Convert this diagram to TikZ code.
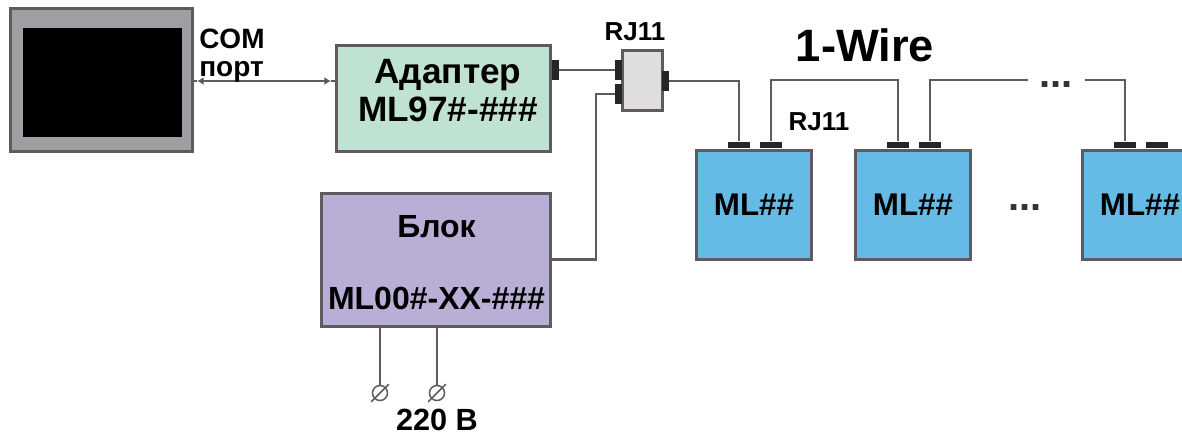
\documentclass[tikz,border=0pt]{standalone}
\usepackage{fontspec}
\setmainfont{Liberation Sans}
\usepackage{tikz}
\usetikzlibrary{arrows.meta,positioning,calc}
\definecolor{framegray}{HTML}{A09EA2}
\definecolor{edgegray}{HTML}{5E5A60}
\definecolor{adaptergreen}{HTML}{C0E2D2}
\definecolor{blockviolet}{HTML}{B9AFD6}
\definecolor{jackgray}{HTML}{E0DDDD}
\definecolor{moduleblue}{HTML}{66BBE6}
\newcommand{\px}{*0.75pt}
\tikzset{
  unitbox/.style={
    draw=edgegray,
    line width=3\px,
    align=center,
    inner sep=0pt,
    font=\bfseries\fontsize{23.5}{28.5}\selectfont
  },
  modulebox/.style={
    unitbox,
    fill=moduleblue,
    minimum width=115\px,
    minimum height=109\px
  },
  sideplug/.style={
    fill=black!85,
    inner sep=0pt,
    minimum width=7\px,
    minimum height=20\px
  },
  topplug/.style={
    fill=black!85,
    inner sep=0pt,
    minimum width=22\px,
    minimum height=6\px
  },
  wire/.style={draw=edgegray,line width=2.5\px},
  terminal/.style={
    draw=edgegray,
    circle,
    inner sep=0pt,
    line width=1.5\px,
    minimum size=15\px
  },
  boxtext/.style={align=center,inner sep=0pt},
  tag/.style={font=\bfseries\fontsize{19.5}{21}\selectfont,inner sep=0pt},
  dots/.style={font=\bfseries\fontsize{30}{30}\selectfont,inner sep=0pt,text=black!80}
}

\begin{document}
\begin{tikzpicture}[x=0.75pt,y=-0.75pt]
  \clip (0,0) rectangle (1182,435);
  % computer
  \node[unitbox,fill=framegray,minimum width=182\px,minimum height=142\px] (pc) at (101,80) {};
  \node[fill=black,inner sep=0pt,minimum width=159\px,minimum height=109\px] (screen) at (102.5,82.5) {};
  % adapter and supply
  \node[unitbox,fill=adaptergreen,minimum width=214\px,minimum height=105\px] (adapter) at (443,98.5) {};
  \node[boxtext,font=\bfseries\fontsize{26.4}{28.5}\selectfont] (adaptertext) at (448,91)
    {Адаптер\\ML97\#-\#\#\#};
  \node[unitbox,fill=blockviolet,minimum width=229\px,minimum height=133\px] (block) at (435.5,259.5) {};
  \node[boxtext,font=\bfseries\fontsize{24}{54}\selectfont] (blocktext) at (436.5,263)
    {Блок\\ML00\#-XX-\#\#\#};
  \node[sideplug,right=0pt of adapter.east,yshift=28.5\px] (adapterplug) {};
  % jack
  \node[unitbox,fill=jackgray,minimum width=40\px,minimum height=60\px] (jack) at (642,81) {};
  \node[sideplug,at={(618.5,70)}] (jackin) {};
  \node[sideplug,at={(618.5,94)}] (jackpower) {};
  \node[sideplug,at={(665.5,81)}] (jackout) {};
  % modules
  \node[modulebox] (mlone) at (754,205) {ML\#\#};
  \node[modulebox,right=41\px of mlone] (mltwo) {ML\#\#};
  \node[modulebox,right=109\px of mltwo] (mlthree) {ML\#\#};
  \foreach \m/\first/\second in {mlone/mlonea/mloneb,mltwo/mltwoa/mltwob,mlthree/mlthreea/mlthreeb}{
    \node[topplug,above=1\px of \m.north,xshift=-15\px] (\first) {};
    \node[topplug,above=1\px of \m.north,xshift=17\px] (\second) {};
  }
  % wires
  \coordinate (powerbend) at (596,94);
  \coordinate (busline) at (0,80);
  \coordinate (busgapl) at (1028,80);
  \coordinate (busgapr) at (1085,80);
  \coordinate (comleft) at (197,81);
  \coordinate (comright) at (331,81);
  \draw[wire] (pc.east |- comleft) -- (comleft);
  \draw[wire] (comright) -- (adapter.west |- comright);
  \draw[wire,{Latex[length=5pt,width=6pt]}-{Latex[length=5pt,width=6pt]}] (comleft) -- (comright);
  \draw[wire] (adapterplug.east) -- (jackin.west);
  \draw[wire] (block.east) -| (powerbend) -- (jackpower.west);
  \draw[wire] (jackout.east) -| (mlonea.north);
  \draw[wire] (mloneb.north) |- (mltwoa.north |- busline) -- (mltwoa.north);
  \draw[wire] (mltwob.north) |- (busgapl);
  \draw[wire] (busgapr) -| (mlthreea.north);
  % mains
  \node[terminal] (terma) at (380,393) {};
  \node[terminal] (termb) at (437,393) {};
  \foreach \t in {terma,termb}{
    \draw[wire,line width=1.5\px] ($(\t.south west)+(-3,3)$) -- ($(\t.north east)+(3,-3)$);
  }
  \draw[wire] (block.south -| terma) -- (terma);
  \draw[wire] (block.south -| termb) -- (termb);
  % labels
  \node[tag,font=\bfseries\fontsize{21}{20.5}\selectfont,align=left,anchor=north west] (comlabel) at (199,29) {COM\\порт};
  \node[tag] (rjtop) at (635,32) {RJ11};
  \node[tag] (rjmodule) at (819,122) {RJ11};
  \node[font=\bfseries\fontsize{34}{34}\selectfont,inner sep=0pt] (wirelabel) at (865,45) {1-Wire};
  \node[font=\bfseries\fontsize{23}{23}\selectfont,inner sep=0pt] (mains) at (437,420) {220 В};
  \node[dots] (busdots) at (1056,85) {...};
  \node[dots] (moduledots) at (1025,208) {...};
\end{tikzpicture}
\end{document}
